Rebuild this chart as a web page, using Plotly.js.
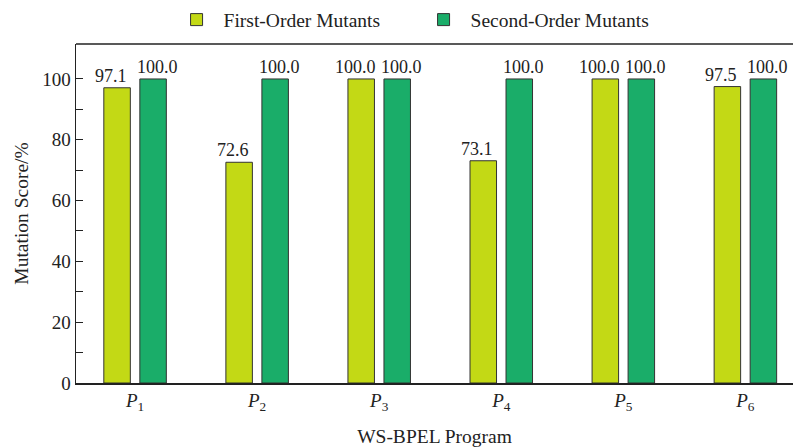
<!DOCTYPE html>
<html><head><meta charset="utf-8">
<script src="https://cdn.plot.ly/plotly-3.0.1.min.js"></script>
<style>html,body{margin:0;padding:0;background:#fff;}</style>
</head><body>
<div id="chart" style="width:793px;height:447px;"></div>
<script>
const categories = ["<i>P</i><sub>1</sub>","<i>P</i><sub>2</sub>","<i>P</i><sub>3</sub>","<i>P</i><sub>4</sub>","<i>P</i><sub>5</sub>","<i>P</i><sub>6</sub>"];
const firstOrder = [97.1, 72.6, 100.0, 73.1, 100.0, 97.5];
const secondOrder = [100.0, 100.0, 100.0, 100.0, 100.0, 100.0];
const seriesNames = ["First-Order Mutants", "Second-Order Mutants"];
const yTicks = [0, 20, 40, 60, 80, 100];
const yMinorTicks = [10, 30, 50, 70, 90];

const font = "'Liberation Serif', 'Times New Roman', serif";
const mk = (vals, name, color) => ({
  type: 'bar', x: categories, y: vals, name: name,
  marker: {color: color, line: {color: '#333333', width: 1}}
});
const data = [
  mk(firstOrder, seriesNames[0], '#c3d915'),
  mk(secondOrder, seriesNames[1], '#1aad69')
];
const labelAnn = (vals, shift) => vals.map((v, i) => ({
  x: categories[i], y: v, xref: 'x', yref: 'y', text: v.toFixed(1),
  showarrow: false, yanchor: 'bottom', xanchor: 'center', xshift: shift, yshift: 0,
  font: {family: font, size: 18, color: '#222'}
}));
const layout = {
  width: 793, height: 447,
  margin: {l: 76, r: 0, t: 44, b: 64, autoexpand: false},
  paper_bgcolor: '#fff', plot_bgcolor: '#fff',
  font: {family: font, size: 18, color: '#222'},
  barmode: 'group', bargap: 0.41, bargroupgap: 0.264,
  showlegend: true,
  legend: {orientation: 'h', x: 0.475, xanchor: 'center', y: 1.071, yanchor: 'middle',
           font: {family: font, size: 19.5, color: '#222'}, itemwidth: 44,
           entrywidth: 188, traceorder: 'normal'},
  xaxis: {
    type: 'category', range: [-0.484, 5.39],
    showline: true, linecolor: '#222', linewidth: 1.5, mirror: false,
    ticks: '', showgrid: false, zeroline: false,
    tickfont: {family: font, size: 19, color: '#222'},
    title: {text: 'WS-BPEL Program', font: {family: font, size: 19.5, color: '#222'}, standoff: 20}
  },
  yaxis: {
    range: [0, 111.5], tickvals: yTicks,
    showline: true, linecolor: '#222', linewidth: 1.5,
    ticks: 'inside', ticklen: 7, tickcolor: '#222',
    minor: {tickvals: yMinorTicks, ticks: 'inside', ticklen: 7, tickcolor: '#222', showgrid: false},
    showgrid: false, zeroline: false,
    tickfont: {family: font, size: 19, color: '#222'},
    title: {text: 'Mutation Score/%', font: {family: font, size: 19.5, color: '#222'}, standoff: 8}
  },
  annotations: labelAnn(firstOrder, -24).concat(labelAnn(secondOrder, 22)),
  shapes: [{type: 'line', xref: 'paper', yref: 'paper', x0: 0, x1: 1, y0: 1, y1: 1,
            line: {color: '#222', width: 1.5}}]
};
Plotly.newPlot('chart', data, layout, {displayModeBar: false, staticPlot: true});
</script>
</body></html>
